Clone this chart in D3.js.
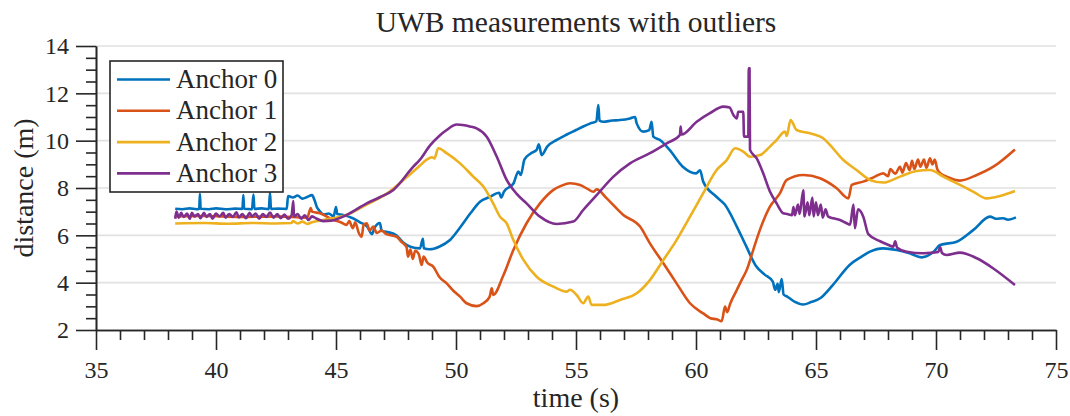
<!DOCTYPE html>
<html>
<head>
<meta charset="utf-8">
<script src="https://cdn.jsdelivr.net/npm/d3@7"></script>
<style>
body { margin: 0; background: #fff; }
svg text { font-family: "Liberation Serif", "Times New Roman", serif; fill: #262626; }
</style>
</head>
<body>
<svg id="chart" width="1070" height="416"></svg>
<script>
// ---- data: [time (s), distance (m)] ----
var anchorNames = ["Anchor 0", "Anchor 1", "Anchor 2", "Anchor 3"];
var anchorColors = ["#0072BD", "#D95319", "#EDB120", "#7E2F8E"];
var xTicks = [35, 40, 45, 50, 55, 60, 65, 70, 75];
var yTicks = [2, 4, 6, 8, 10, 12, 14];
var xMinor = [36,37,38,39,41,42,43,44,46,47,48,49,51,52,53,54,56,57,58,59,61,62,63,64,66,67,68,69,71,72,73,74];
var yMinor = [2.5,3,3.5,4.5,5,5.5,6.5,7,7.5,8.5,9,9.5,10.5,11,11.5,12.5,13,13.5];

var anchor0 = [[38.3,7.12],[38.6,7.1],[38.9,7.14],[39.2,7.1],[39.3,7.12],[39.33,7.75],[39.36,7.12],[39.7,7.1],[40.0,7.14],[40.4,7.1],
  [40.8,7.13],[41.1,7.12],[41.14,7.7],[41.17,7.12],[41.5,7.1],[41.56,7.72],[41.6,7.12],[41.9,7.14],[42.2,7.1],[42.25,7.8],
  [42.29,7.12],[42.6,7.13],[42.95,7.12],[43.0,7.66],[43.2,7.6],[43.4,7.68],[43.6,7.55],[43.8,7.62],[44.0,7.7],[44.1,7.5],
  [44.2,7.2],[44.3,7.05],[44.5,6.88],[44.7,6.92],[44.9,6.8],[45.0,7.2],[45.05,6.9],[45.3,6.86],[45.7,6.72],[46.0,6.55],
  [46.3,6.37],[46.5,6.05],[46.6,6.3],[46.83,6.52],[46.9,6.2],[47.1,6.15],[47.5,6.01],[47.8,5.7],[48.1,5.52],[48.5,5.45],
  [48.62,5.85],[48.66,5.45],[48.9,5.41],[49.3,5.52],[49.75,5.8],[50.2,6.37],[50.6,6.93],[51.0,7.42],[51.4,7.62],[51.8,7.8],
  [51.88,7.6],[52.0,7.85],[52.4,8.2],[52.6,8.7],[52.7,8.55],[52.85,9.2],[53.1,9.45],[53.36,9.61],[53.45,9.85],[53.57,9.39],
  [53.8,9.75],[54.2,10.03],[54.6,10.25],[55.0,10.45],[55.3,10.6],[55.6,10.73],[55.85,10.82],[55.93,11.5],[55.98,10.85],[56.14,10.8],
  [56.5,10.85],[56.83,10.87],[57.25,10.94],[57.46,11.0],[57.53,10.73],[57.8,10.38],[58.05,10.45],[58.15,10.8],[58.22,10.17],[58.5,10.03],
  [58.9,9.61],[59.45,8.9],[60.0,8.62],[60.17,8.75],[60.3,8.27],[60.85,7.63],[61.2,7.3],[61.7,6.37],[62.1,5.52],[62.5,4.7],
  [62.85,4.35],[63.2,4.04],[63.3,3.7],[63.4,3.95],[63.45,3.6],[63.57,4.15],[63.65,3.5],[63.8,3.41],[64.1,3.2],[64.47,3.08],
  [64.8,3.18],[65.17,3.34],[65.7,3.9],[66.4,4.75],[66.9,5.1],[67.25,5.31],[67.8,5.45],[68.36,5.38],[68.9,5.24],[69.4,5.07],
  [69.9,5.31],[70.17,5.59],[70.86,5.73],[71.56,6.23],[72.25,6.79],[72.5,6.7],[72.8,6.72],[73.0,6.66],[73.33,6.76]];

var anchor1 = [[38.3,6.8],[39.5,6.82],[41.0,6.78],[42.5,6.8],[43.8,6.75],[43.95,7.15],[44.0,7.0],[44.33,6.93],[44.9,6.65],[45.2,6.55],
  [45.44,6.44],[45.55,6.6],[45.7,6.3],[45.8,6.55],[45.95,6.1],[46.07,5.94],[46.15,6.45],[46.28,6.51],[46.4,6.2],[46.55,6.37],
  [46.7,6.1],[46.9,6.2],[47.1,6.05],[47.3,6.0],[47.53,5.94],[47.7,5.75],[47.94,5.5],[48.0,5.1],[48.1,5.4],[48.2,5.0],
  [48.3,5.35],[48.45,5.2],[48.57,4.75],[48.65,5.1],[48.8,4.85],[49.06,4.67],[49.3,4.25],[49.61,3.97],[49.9,3.65],[50.17,3.41],
  [50.44,3.13],[50.86,3.01],[51.14,3.13],[51.4,3.4],[51.49,3.76],[51.55,3.48],[51.97,4.3],[52.39,5.38],[52.94,6.51],[53.5,7.35],
  [54.06,7.92],[54.4,8.1],[54.75,8.2],[55.17,8.13],[55.5,7.95],[55.72,7.84],[55.86,7.94],[56.28,7.56],[56.97,6.86],[57.67,6.37],
  [58.08,5.66],[58.64,4.82],[59.19,3.97],[59.75,3.13],[60.3,2.7],[60.6,2.5],[60.86,2.45],[61.07,2.37],[61.21,2.99],[61.3,2.75],
  [61.42,3.1],[61.7,3.69],[61.9,4.11],[62.11,4.53],[62.39,5.4],[62.67,6.25],[63.08,7.21],[63.5,7.78],[63.78,8.34],[64.47,8.55],
  [65.17,8.41],[65.86,7.99],[66.35,7.56],[66.49,8.13],[66.97,8.27],[67.4,8.45],[67.8,8.62],[68.0,8.5],[68.1,8.8],[68.3,8.6],
  [68.5,8.9],[68.6,8.65],[68.75,9.05],[68.9,8.75],[69.0,9.15],[69.1,8.8],[69.25,9.2],[69.35,8.9],[69.5,9.2],[69.6,8.85],
  [69.75,9.25],[69.85,9.0],[69.95,9.2],[70.05,8.8],[70.2,8.6],[70.44,8.48],[71.0,8.31],[71.7,8.55],[72.39,8.9],[73.29,9.63]];

var anchor2 = [[38.3,6.5],[39.5,6.52],[40.5,6.49],[41.5,6.52],[42.5,6.5],[43.15,6.52],[43.2,6.6],[43.4,6.5],[43.6,6.58],[43.8,6.48],
  [44.0,6.55],[44.47,6.65],[45.44,6.86],[46.28,7.3],[47.1,7.75],[47.94,8.45],[48.5,8.95],[48.78,9.2],[49.0,9.3],[49.1,9.25],
  [49.26,9.68],[49.61,9.47],[50.17,9.04],[50.72,8.48],[51.14,8.06],[51.55,7.35],[51.83,6.79],[52.11,6.51],[52.39,5.8],[52.81,4.96],
  [53.36,4.25],[54.06,3.83],[54.61,3.62],[54.75,3.7],[55.03,3.48],[55.3,3.13],[55.51,3.41],[55.65,3.06],[56.14,3.06],[56.83,3.27],
  [57.53,3.55],[58.08,4.11],[58.64,4.96],[59.19,5.8],[59.75,6.79],[60.3,7.78],[60.86,8.76],[61.28,9.18],[61.63,9.68],[61.97,9.54],
  [62.25,9.32],[62.67,9.39],[63.08,9.75],[63.36,10.03],[63.71,10.38],[63.78,10.2],[63.94,10.87],[64.19,10.45],[64.75,10.31],[65.3,10.1],
  [65.58,9.82],[66.14,9.18],[66.69,8.76],[67.25,8.34],[67.8,8.23],[68.5,8.48],[69.19,8.72],[69.75,8.76],[70.3,8.48],[71.0,8.13],
  [71.56,7.84],[72.11,7.56],[72.67,7.66],[73.29,7.87]];

var anchor3 = [[38.3,6.7],[38.35,7.0],[38.45,6.75],[38.55,6.95],[38.65,6.78],[38.8,6.92],[38.9,6.7],[39.0,6.95],[39.1,6.8],[39.25,6.9],
  [39.35,6.72],[39.5,6.95],[39.6,6.78],[39.75,6.9],[39.85,6.7],[40.0,6.92],[40.15,6.8],[40.3,6.95],[40.4,6.75],[40.55,6.9],
  [40.7,6.78],[40.85,6.97],[40.95,6.76],[41.1,6.9],[41.25,6.72],[41.4,6.95],[41.5,6.8],[41.65,6.92],[41.8,6.7],[41.95,6.9],
  [42.1,6.78],[42.25,6.96],[42.4,6.74],[42.55,6.9],[42.7,6.72],[42.85,6.88],[43.0,6.7],[43.15,6.85],[43.22,7.45],[43.25,6.8],
  [43.4,6.9],[43.55,6.7],[43.7,6.85],[43.85,6.65],[44.0,6.8],[44.2,6.7],[44.47,6.6],[44.8,6.62],[45.44,6.86],[46.28,7.35],
  [46.8,7.6],[47.39,7.92],[48.22,8.9],[48.5,9.2],[48.92,9.8],[49.3,10.2],[49.61,10.45],[50.03,10.68],[50.58,10.6],[50.86,10.52],
  [51.28,10.17],[51.7,9.32],[52.11,8.34],[52.53,7.75],[52.94,7.35],[53.5,6.79],[54.19,6.48],[54.89,6.58],[55.3,7.07],[55.86,7.7],
  [56.56,8.48],[57.25,9.04],[58.08,9.47],[58.78,9.89],[59.33,10.24],[59.36,10.6],[59.4,10.26],[60.03,10.8],[60.58,11.16],[61.14,11.44],
  [61.4,11.4],[61.56,11.08],[61.7,10.94],[61.76,11.22],[61.97,11.22],[62.0,10.17],[62.18,10.17],[62.2,13.06],[62.23,13.06],[62.25,9.61],
  [62.53,9.25],[62.8,8.62],[63.08,7.85],[63.36,7.35],[63.64,6.93],[63.8,6.9],[64.0,6.85],[64.06,7.2],[64.12,6.85],[64.25,7.3],
  [64.32,6.9],[64.47,7.9],[64.52,6.8],[64.65,7.4],[64.72,6.85],[64.85,7.6],[64.9,6.8],[65.0,7.4],[65.08,6.85],[65.2,7.3],
  [65.28,6.75],[65.4,7.1],[65.5,6.8],[65.72,6.72],[66.0,6.65],[66.28,6.51],[66.42,6.45],[66.56,7.3],[66.62,6.3],[66.75,7.1],
  [66.97,6.79],[67.18,6.05],[67.67,5.75],[68.0,5.6],[68.22,5.52],[68.3,5.75],[68.38,5.48],[68.78,5.31],[69.47,5.24],[70.1,5.3],
  [70.17,5.5],[70.25,5.25],[70.44,5.17],[71.0,5.27],[71.7,5.03],[72.39,4.6],[73.29,3.9]];

var anchors = [anchor0, anchor1, anchor2, anchor3];

// ---- layout ----
var plot = {left: 96, right: 1056, top: 46, bottom: 330};
var axisColor = "#262626";

var svg = d3.select("#chart");
var x = d3.scaleLinear().domain([35, 75]).range([plot.left, plot.right]);
var y = d3.scaleLinear().domain([2, 14]).range([plot.bottom, plot.top]);

// horizontal grid
svg.append("g")
    .selectAll("line")
    .data(yTicks.filter(function(v) { return v > 2; }))
    .enter().append("line")
    .attr("x1", plot.left)
    .attr("x2", plot.right)
    .attr("y1", function(d) { return y(d); })
    .attr("y2", function(d) { return y(d); })
    .attr("stroke", "#e1e1e1")
    .attr("stroke-width", 1.6);

// axes: minor ticks first, major ticks with labels on top
function styleAxis(g) {
    g.selectAll("path, line").attr("stroke", axisColor).attr("stroke-width", 1.6);
    g.selectAll("text").attr("fill", axisColor).attr("font-size", 24)
        .attr("font-family", "Liberation Serif, serif");
}

svg.append("g")
    .attr("transform", "translate(0," + plot.bottom + ")")
    .call(d3.axisBottom(x).tickValues(xMinor).tickSize(10).tickSizeOuter(0).tickFormat(""))
    .call(styleAxis);
svg.append("g")
    .attr("transform", "translate(0," + plot.bottom + ")")
    .call(d3.axisBottom(x).tickValues(xTicks).tickSize(20).tickSizeOuter(0).tickPadding(11).tickFormat(d3.format("d")))
    .call(styleAxis);
svg.append("g")
    .attr("transform", "translate(" + plot.left + ",0)")
    .call(d3.axisLeft(y).tickValues(yMinor).tickSize(10).tickSizeOuter(0).tickFormat(""))
    .call(styleAxis);
svg.append("g")
    .attr("transform", "translate(" + plot.left + ",0)")
    .call(d3.axisLeft(y).tickValues(yTicks).tickSize(20).tickSizeOuter(0).tickPadding(7).tickFormat(d3.format("d")))
    .call(styleAxis);

// series
var line = d3.line()
    .curve(d3.curveMonotoneX)
    .x(function(d) { return x(d[0]); })
    .y(function(d) { return y(d[1]); });

anchors.forEach(function(series, i) {
    svg.append("path")
        .attr("d", line(series))
        .attr("fill", "none")
        .attr("stroke", anchorColors[i])
        .attr("stroke-width", 2.6)
        .attr("stroke-linejoin", "round");
});

// titles
svg.append("text")
    .attr("x", (plot.left + plot.right) / 2)
    .attr("y", 32)
    .attr("text-anchor", "middle")
    .attr("font-size", 29.5)
    .text("UWB measurements with outliers");
svg.append("text")
    .attr("x", (plot.left + plot.right) / 2)
    .attr("y", 407)
    .attr("text-anchor", "middle")
    .attr("font-size", 28)
    .text("time (s)");
svg.append("text")
    .attr("transform", "translate(33," + (plot.top + plot.bottom) / 2 + ") rotate(-90)")
    .attr("text-anchor", "middle")
    .attr("font-size", 28)
    .text("distance (m)");

// legend
var legend = svg.append("g").attr("transform", "translate(110,61)");
legend.append("rect")
    .attr("width", 173)
    .attr("height", 131)
    .attr("fill", "#fff")
    .attr("stroke", axisColor)
    .attr("stroke-width", 1.6);
anchorNames.forEach(function(name, i) {
    var cy = 18.5 + i * 31.3;
    legend.append("line")
        .attr("x1", 7).attr("x2", 60)
        .attr("y1", cy).attr("y2", cy)
        .attr("stroke", anchorColors[i])
        .attr("stroke-width", 2.6);
    legend.append("text")
        .attr("x", 66)
        .attr("y", cy + 8.5)
        .attr("font-size", 27)
        .text(name);
});
</script>
</body>
</html>
